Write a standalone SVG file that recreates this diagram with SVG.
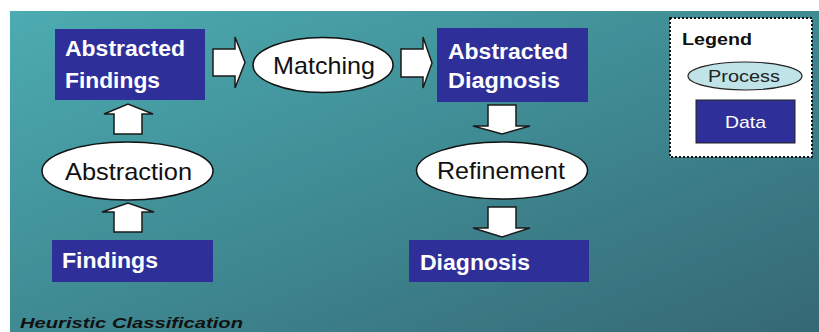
<svg xmlns="http://www.w3.org/2000/svg" width="819" height="332" viewBox="0 0 819 332">
<defs>
<linearGradient id="bg" x1="0" y1="0" x2="1" y2="1">
<stop offset="0" stop-color="#4cacb1"/>
<stop offset="0.5" stop-color="#3f8a93"/>
<stop offset="1" stop-color="#356874"/>
</linearGradient>
<style>
.data{fill:#2f2f99;}
.proc{fill:#ffffff;stroke:#111;stroke-width:1.5;}
.arrow{fill:#ffffff;stroke:#1a1a1a;stroke-width:1.5;stroke-linejoin:miter;}
.dt{font-family:"Liberation Sans",Arial,sans-serif;font-weight:bold;font-size:22px;fill:#ffffff;}
.pt{font-family:"Liberation Sans",Arial,sans-serif;font-size:24px;fill:#111;text-anchor:middle;}
.lg{font-family:"Liberation Sans",Arial,sans-serif;font-size:17px;}
</style>
</defs>
<rect x="0" y="0" width="819" height="332" fill="#ffffff"/>
<rect x="10" y="11" width="809" height="321" fill="url(#bg)"/>

<g id="connectors">
<polygon class="arrow" points="213,49 235,49 235,37 245,62.5 235,88 235,76 213,76"/>
<polygon class="arrow" points="401,49 423,49 423,37 432,63 423,88 423,77 401,77"/>
<polygon class="arrow" points="114,134 114,114 104,114 128,104 153,114 142,114 142,134"/>
<polygon class="arrow" points="114,232 114,212 102,212 128,203 154,212 142,212 142,232"/>
<polygon class="arrow" points="488,105 516,105 516,126 530,126 502,134 473,126 488,126"/>
<polygon class="arrow" points="488,207 516,207 516,228 530,228 502,237 473,228 488,228"/>
</g>

<g id="abstracted-findings">
<rect class="data" x="55" y="29" width="150" height="71"/>
<text class="dt" x="65" y="56" textLength="120" lengthAdjust="spacingAndGlyphs">Abstracted</text>
<text class="dt" x="65" y="88" textLength="95" lengthAdjust="spacingAndGlyphs">Findings</text>
</g>

<g id="matching">
<ellipse class="proc" cx="323" cy="65" rx="70" ry="27.5"/>
<text class="pt" x="324" y="74" textLength="102" lengthAdjust="spacingAndGlyphs">Matching</text>
</g>

<g id="abstracted-diagnosis">
<rect class="data" x="437" y="28" width="151" height="74"/>
<text class="dt" x="448" y="59" textLength="120" lengthAdjust="spacingAndGlyphs">Abstracted</text>
<text class="dt" x="448" y="88" textLength="112" lengthAdjust="spacingAndGlyphs">Diagnosis</text>
</g>

<g id="abstraction">
<ellipse class="proc" cx="127.5" cy="171" rx="85.5" ry="29"/>
<text class="pt" x="128.5" y="180" textLength="127" lengthAdjust="spacingAndGlyphs">Abstraction</text>
</g>

<g id="findings">
<rect class="data" x="52" y="240" width="161" height="42"/>
<text class="dt" x="62" y="268" textLength="96" lengthAdjust="spacingAndGlyphs">Findings</text>
</g>

<g id="refinement">
<ellipse class="proc" cx="502" cy="170.5" rx="85.5" ry="28.5"/>
<text class="pt" x="501" y="179" textLength="128" lengthAdjust="spacingAndGlyphs">Refinement</text>
</g>

<g id="diagnosis">
<rect class="data" x="409" y="240" width="180" height="42"/>
<text class="dt" x="420" y="270" textLength="110" lengthAdjust="spacingAndGlyphs">Diagnosis</text>
</g>

<g id="legend">
<rect x="670" y="18" width="142" height="139" fill="#ffffff" stroke="#111" stroke-width="2" stroke-dasharray="2,2"/>
<text class="lg" x="682" y="45" font-weight="bold" fill="#111" textLength="70" lengthAdjust="spacingAndGlyphs">Legend</text>
<ellipse cx="745" cy="76" rx="57" ry="14" fill="#bfe3e6" stroke="#222" stroke-width="1.2"/>
<text class="lg" x="744" y="82" fill="#222" text-anchor="middle" textLength="72" lengthAdjust="spacingAndGlyphs">Process</text>
<rect x="696" y="100" width="99" height="43" fill="#2f2f99" stroke="#222" stroke-width="1"/>
<text class="lg" x="745.5" y="128" fill="#ffffff" text-anchor="middle" textLength="41" lengthAdjust="spacingAndGlyphs">Data</text>
</g>

<text x="20" y="328" font-family="Liberation Sans,Arial,sans-serif" font-size="15.5" font-weight="bold" font-style="italic" fill="#111" textLength="223" lengthAdjust="spacingAndGlyphs">Heuristic Classification</text>
</svg>
